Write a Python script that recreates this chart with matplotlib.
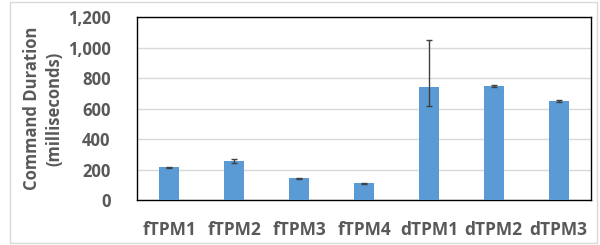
import numpy as np
import matplotlib.pyplot as plt
from matplotlib.patches import Rectangle
from matplotlib.ticker import FuncFormatter

labels = ["fTPM1", "fTPM2", "fTPM3", "fTPM4", "dTPM1", "dTPM2", "dTPM3"]
duration = [215, 254, 143, 110, 741, 752, 651]
err_low = [3, 12, 4, 4, 125, 6, 5]
err_high = [3, 13, 4, 4, 309, 6, 5]

plt.rcParams["font.family"] = ["Open Sans", "DejaVu Sans"]
plt.rcParams["font.weight"] = "bold"

fig = plt.figure(figsize=(6.0, 2.45), dpi=100)
ax = fig.add_axes([137 / 600, 1 - 200 / 245, 454 / 600, 182.5 / 245])

x = np.arange(len(labels))
ax.bar(x, duration, width=0.31, color="#5B9BD5", zorder=3)
ax.errorbar(x, duration, yerr=[err_low, err_high], fmt="none",
            ecolor="#404040", elinewidth=1, capsize=2.5, capthick=1, zorder=4)

ax.set_xlim(-0.5, len(labels) - 0.5)
ax.set_ylim(0, 1200)
ax.set_yticks(range(0, 1201, 200))
ax.yaxis.set_major_formatter(FuncFormatter(lambda v, p: f"{int(v):,}"))
ax.set_xticks(x)
ax.set_xticklabels(labels, fontweight="bold")
for t in ax.get_yticklabels():
    t.set_fontweight("bold")
ax.grid(axis="y", color="#D9D9D9", linewidth=1, zorder=0)
ax.tick_params(length=0, colors="#595959")
ax.tick_params(axis="y", labelsize=12, pad=19)
ax.tick_params(axis="x", labelsize=12.5, pad=15)
for s in ax.spines.values():
    s.set_color("black")
    s.set_linewidth(1)

ax.set_ylabel("Command Duration\n(milliseconds)", fontsize=12,
              color="#595959", fontweight="bold", labelpad=3, linespacing=1.3)

# outer chart border
fig.patches.append(Rectangle((10 / 600, 2 / 245), 587 / 600, 241 / 245,
                             transform=fig.transFigure, fill=False,
                             edgecolor="#D9D9D9", linewidth=1))

fig.savefig("out.png", dpi=100)
